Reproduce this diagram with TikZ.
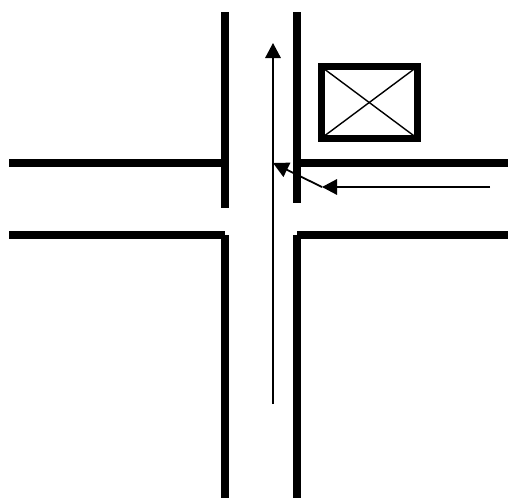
\documentclass[tikz,border=0pt]{standalone}
\usetikzlibrary{arrows.meta}
\tikzset{
  wall/.style={line width=8pt,line cap=butt,black},
  flow/.style={line width=1.6pt,black,-{Triangle[length=15pt,width=15.5pt]}},
  flowthick/.style={line width=1.8pt,black,-{Triangle[length=15.5pt,width=15.5pt]}},
  house/.style={line width=6.7pt,black},
  housecross/.style={line width=1.4pt,black}
}
\begin{document}
\begin{tikzpicture}[x=1pt,y=-1pt]
\useasboundingbox (0,0) rectangle (508,498);
\fill[white] (0,0) rectangle (508,498);
% upper road edges
\draw[wall] (225,12) -- (225,208);
\draw[wall] (297,12) -- (297,203);
% side road, upper edges
\draw[wall] (9,162.5) -- (221,162.5);
\draw[wall] (297,162.5) -- (508,162.5);
% lower edges
\draw[wall] (9,235) -- (225,235);
\draw[wall] (225,235) -- (225,498);
\draw[wall] (297,235) -- (508,235);
\draw[wall] (297,235) -- (297,498);
% building
\coordinate (bnw) at (321.2,66.7);
\coordinate (bse) at (417.3,138.3);
\draw[house] (bnw) rectangle (bse);
\draw[housecross] (bnw) -- (bse);
\draw[housecross] (bnw |- bse) -- (bse |- bnw);
% arrows
\coordinate (mainstart) at (273,404);
\coordinate (mainend) at (273,43);
\coordinate (sidestart) at (490,187);
\coordinate (bend) at (322,187);
\coordinate (junction) at (273,163);
\draw[flow] (mainstart) -- (mainend);
\draw[flow] (sidestart) -- (bend);
\draw[flowthick] (bend) -- (junction);
\end{tikzpicture}
\end{document}
